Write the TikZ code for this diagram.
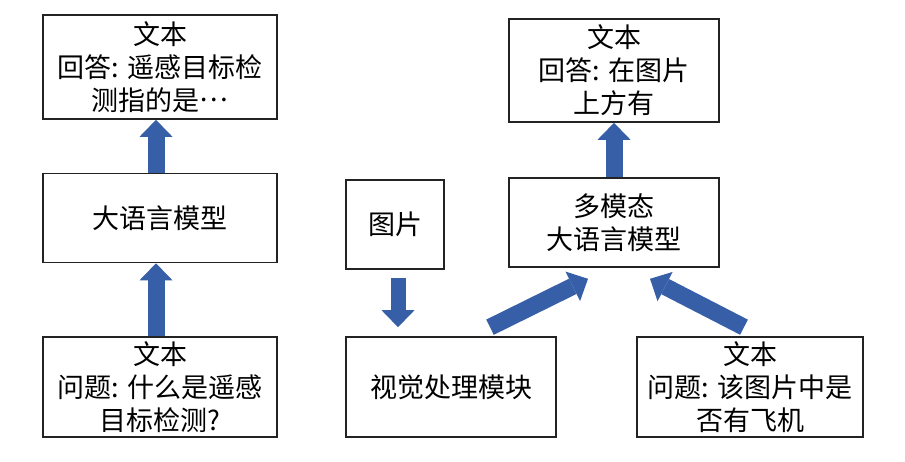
\documentclass[tikz,border=0pt]{standalone}
\usepackage{fontspec}
\newfontfamily\cjk{Noto Sans CJK SC}
\usetikzlibrary{arrows.meta,calc}
\definecolor{barblue}{RGB}{55,95,168}
\definecolor{boxline}{RGB}{35,35,35}
\tikzset{
  box/.style={draw=boxline, line width=1.6pt, fill=white, align=center,
    inner sep=0pt, font=\cjk\fontsize{27}{33}\selectfont},
  blockarrow/.style={draw=barblue, line width=17pt,
    -{Triangle[width=33pt,length=17pt,line width=0pt]}},
}
\begin{document}
\begin{tikzpicture}[x=1pt,y=-1pt]
\useasboundingbox (0,0) rectangle (905,462);
% left column
\node[box, minimum width=234pt, minimum height=104pt] (A) at (160,67) {文本\\回答: 遥感目标检\\测指的是\raisebox{0.32em}[0pt][0pt]{…}};
\node[box, minimum width=234pt, minimum height=89pt] (B) at (160,218) {大语言模型};
\node[box, minimum width=234pt, minimum height=100pt] (C) at (160,387) {文本\\问题: 什么是遥感\\目标检测?};
% middle
\node[box, minimum width=98pt, minimum height=89pt] (P) at (395,224.5) {图片};
\node[box, minimum width=210pt, minimum height=100pt] (V) at (451,387) {视觉处理模块};
% right
\node[box, minimum width=210pt, minimum height=103pt] (D) at (614,70.5) {文本\\回答: 在图片\\上方有};
\node[box, minimum width=210pt, minimum height=89pt] (M) at (614,222.5) {多模态\\大语言模型};
\node[box, minimum width=226pt, minimum height=100pt] (E) at (750,387) {文本\\问题: 该图片中是\\否有飞机};
% connector end points
\coordinate (pt1) at ([shift={(3,8)}]P.south);
\coordinate (pt2) at ([yshift=9pt]pt1 |- V.north);
\coordinate (t1) at ([shift={(39,-9)}]V.north);
\coordinate (h1) at ([shift={(-26,11)}]M.south);
\coordinate (t2) at ([shift={(-6,-9)}]E.north);
\coordinate (h2) at ([shift={(36,11)}]M.south);
% arrows
\draw[blockarrow] ([xshift=-4pt]B.north) -- ([xshift=-4pt]A.south);
\draw[blockarrow] ([xshift=-4pt]C.north) -- ([xshift=-4pt]B.south);
\draw[blockarrow] (M.north) -- (D.south);
\draw[blockarrow, line width=15pt] (pt1) -- (pt2);
\draw[blockarrow] (t1) -- (h1);
\draw[blockarrow] (t2) -- (h2);
\end{tikzpicture}
\end{document}
